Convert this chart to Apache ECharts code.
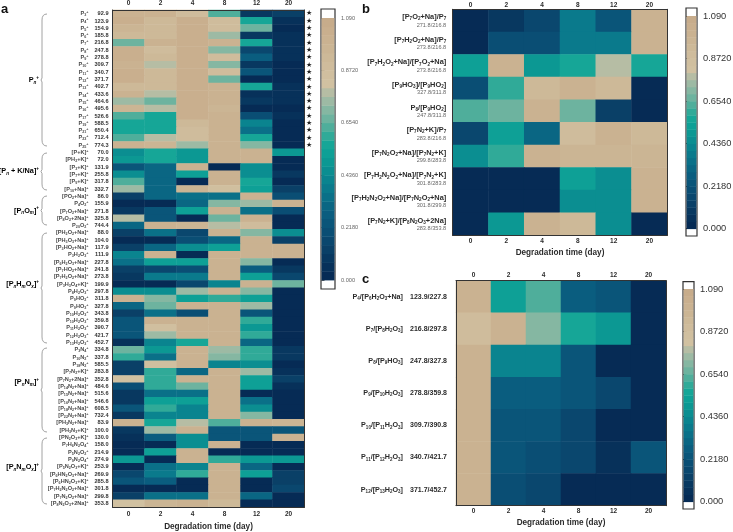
<!DOCTYPE html>
<html><head><meta charset="utf-8">
<style>html,body{margin:0;padding:0;background:#fff}#c{width:733px;height:532px}</style>
<script src="https://cdn.jsdelivr.net/npm/echarts@6/dist/echarts.min.js"></script>
</head><body><div id="c"></div>
<script>
const days = ['0','2','4','8','12','20'];
const tickValues = [0, 0.218, 0.436, 0.654, 0.872, 1.09];
const tickLabels = ['0.000','0.2180','0.4360','0.6540','0.8720','1.090'];
const allColors = ['#062b55','#07315a','#083860','#0a4067','#0a476e','#0a4e74','#0a5579','#0a5d7f','#0a6683','#0a7088','#0a7a8c','#0a848f','#0b8e91','#0c9893','#0ea096','#16a697','#30aa98','#4fae9b','#6db39f','#85b7a2','#9dbaa4','#b6bda4','#d1c1a1','#d0bf9f','#cfbc9c','#cdb998','#cbb594','#cab291','#c9af8e','#c7ac8b'];

const aNames = ['P₃⁺','P₄⁺','P₅⁺','P₆⁺','P₇⁺','P₈⁺','P₉⁺','P₁₀⁺','P₁₁⁺','P₁₂⁺','P₁₃⁺','P₁₄⁺','P₁₅⁺','P₁₆⁺','P₁₇⁺','P₁₉⁺','P₂₁⁺','P₂₃⁺','P₂₅⁺',
'[P+K]⁺','[PH₂+K]⁺','[P₃+K]⁺','[P₇+K]⁺','[P₉+K]⁺','[P₁₀+Na]⁺',
'[PO₂+Na]⁺','P₄O₂⁺','[P₇O₂+Na]⁺','[P₈O₂+2Na]⁺','P₂₀O₂⁺',
'[PH₂O₂+Na]⁺','[PH₃O₃+Na]⁺','[P₃HO₂+Na]⁺','P₃H₂O₃⁺','[P₆H₂O₃+Na]⁺','[P₇HO₂+Na]⁺','[P₇H₂O₂+Na]⁺','[P₃H₃O₄+K]⁺','P₈H₂O₃⁺','P₉HO₂⁺','P₉HO₃⁺','P₁₀H₂O₃⁺','P₁₀H₂O₃⁺','P₁₁H₂O₃⁺','P₁₂H₂O₃⁺','P₁₃H₂O₃⁺',
'P₃N₄⁺','P₁₀N₂⁺','P₁₈N₂⁺','[P₇N₂+K]⁺','[P₇N₂+2Na]⁺','[P₁₄N₂+Na]⁺','[P₁₅N₂+Na]⁺','[P₁₆N₂+Na]⁺','[P₁₈N₂+Na]⁺','[P₂₂N₂+Na]⁺','[PH₃N₂+Na]⁺','[PH₃N₃+K]⁺',
'[PN₂O₃+K]⁺','P₇H₆N₂O₄⁺','P₅N₂O₂⁺','P₉N₂O₄⁺','[P₅N₂O₃+K]⁺','[P₆HN₂O₃+Na]⁺','[P₆HN₂O₃+K]⁺','[P₇H₂N₂O₂+Na]⁺','[P₇N₂O₂+Na]⁺','[P₈N₂O₃+2Na]⁺'];
const aMass = ['92.9','123.9','154.9','185.8','216.8','247.8','278.8','309.7','340.7','371.7','402.7','433.6','464.6','495.6','526.6','588.5','650.4','712.4','774.3',
'70.0','72.0','131.9','255.8','317.8','332.7',
'86.0','155.9','271.8','325.8','744.4',
'88.0','104.0','117.9','111.9','227.8','241.8','273.8','199.9','297.8','311.8','327.8','343.8','359.8','390.7','421.7','452.7',
'334.8','337.8','585.5','283.8','352.8','484.6','515.6','546.6','608.5','732.4','83.9','100.0',
'130.0','158.0','214.9','274.9','253.9','269.9','285.8','301.8','299.8','353.8'];
const aStars = 19;
const aValues = [
[1.0,1.0,.88,.63,.10,.13],[1.05,.92,1.05,.90,.55,.05],[.95,.92,1.05,.90,.68,.01],[.92,.92,1.05,.76,.08,.05],[.68,1.0,1.05,1.0,.55,.05],
[1.05,.88,1.05,.70,.16,.05],[1.05,.92,1.05,.90,.27,.05],[1.0,.78,1.05,.70,.10,.01],[1.05,.92,1.05,.88,.22,.01],[1.05,.92,1.05,.68,.00,.01],
[.92,.92,1.05,1.0,.55,.05],[1.0,.78,1.05,1.0,.05,.05],[.74,.68,1.05,1.0,.10,.04],[.95,.78,1.05,.95,.02,.01],[.63,.58,1.05,1.0,.20,.05],
[.55,.58,.92,1.0,.40,.01],[.55,.58,.88,1.0,.35,.01],[.63,.78,.90,1.0,.58,.01],[1.0,.95,.76,1.0,.72,.01],
[.47,.58,.48,1.0,1.0,.48],[.50,.55,.50,1.0,1.0,.01],[.24,.30,1.0,.00,.44,.01],[.46,.32,.52,1.0,.46,.08],[.63,.32,.00,1.0,.55,.00],[.76,.32,.98,.85,.54,.14],
[.14,.30,.36,.33,1.0,.20],[.00,.00,.32,.70,.75,1.0],[.10,.24,.52,1.0,.36,.20],[.78,.24,.02,.66,1.0,.00],[.32,1.0,.98,.78,.88,.00],
[.12,.36,.16,1.0,.72,.46],[.00,.00,.20,.30,1.0,.12],[.14,.30,.45,.52,1.0,1.0],[.42,1.0,.00,1.0,1.0,1.0],[.34,.52,.52,1.0,.72,.01],[.14,.16,.20,1.0,.27,.10],[.08,.38,.38,1.0,.52,.18],[.00,.00,.18,.42,1.0,.68],
[.44,.46,.74,1.0,.72,.00],[1.0,.72,.54,.60,.52,.00],[.30,.66,1.0,1.0,.76,.00],[.12,.33,.20,1.0,.25,.00],[.22,1.0,1.0,1.0,.60,.00],[.22,.85,1.0,1.0,.48,.00],[.22,.76,1.0,1.0,.60,.00],[.05,.42,.55,1.0,.30,.00],
[.66,.48,1.0,.74,.60,.08],[.60,.36,1.0,.70,.60,.08],[.14,.85,1.0,.42,.46,.01],[.14,.60,.30,1.0,.75,.05],[.82,.60,1.0,1.0,.54,.12],[.20,.60,.66,1.0,.54,.05],[.08,.33,.33,1.0,.00,.00],[.10,.52,.52,1.0,.33,.00],[.24,.60,.42,1.0,.46,.00],[.10,.42,.42,1.0,.72,.00],[1.0,.55,.78,.62,1.0,.95],[.08,.76,1.0,.25,.25,.22],
[.05,.28,.44,.25,.22,1.0],[.00,.03,.44,1.0,.00,.00],[.00,.52,1.0,.00,.00,.00],[.50,.00,1.0,.60,.48,.50],[.02,.33,.40,1.0,.30,.00],[.16,.38,.60,1.0,.54,.13],[.22,.26,.03,1.0,.00,.12],[.00,.00,.00,1.0,.00,.18],[.12,.35,.35,1.0,.30,.03],[.82,.98,1.0,.92,.00,.03]];

const bNames = ['[P₇O₂+Na]/P₇','[P₇H₂O₂+Na]/P₇','[P₇H₂O₂+Na]/[P₇O₂+Na]','[P₉HO₃]/[P₉HO₂]','P₈/[P₉HO₂]','[P₇N₂+K]/P₇','[P₇N₂O₂+Na]/[P₇N₂+K]','[P₇H₂N₂O₂+Na]/[P₇N₂+K]','[P₇H₂N₂O₂+Na]/[P₇N₂O₂+Na]','[P₇N₂+K]/[P₈N₂O₃+2Na]'];
const bMass = ['271.8/216.8','273.8/216.8','273.8/216.8','327.8/311.8','247.8/311.8','283.8/216.8','299.8/283.8','301.8/283.8','301.8/299.8','283.8/353.8'];
const bValues = [[.03,.08,.17,.38,.22,1.0],[.02,.19,.19,.38,.38,1.0],[.52,1.0,.50,.56,.78,.56],[.20,.60,.92,1.0,.92,.00],[.62,.68,1.0,.66,.14,.01],[.18,.52,.30,.90,1.0,.92],[.44,.60,1.0,.98,.98,.95],[.00,.00,.00,.52,.45,1.0],[.00,.00,.00,.46,.44,1.0],[.00,.48,1.0,.92,.46,.00]];

const cNames = ['P₄/[P₆H₂O₃+Na]','P₇/[P₈H₂O₃]','P₈/[P₉HO₃]','P₉/[P₁₀H₂O₃]','P₁₀/[P₁₁H₂O₃]','P₁₁/[P₁₂H₂O₃]','P₁₂/[P₁₃H₂O₃]'];
const cMass = ['123.9/227.8','216.8/297.8','247.8/327.8','278.8/359.8','309.7/390.8','340.7/421.7','371.7/452.7'];
const cValues = [[1.0,.52,.64,.27,.23,.01],[.90,1.0,.72,.56,.48,.01],[1.0,.41,.41,.22,.01,.00],[1.0,.27,.27,.23,.16,.00],[1.0,.24,.24,.17,.03,.00],[1.0,.24,.20,.17,.04,.25],[1.0,.20,.17,.01,.03,.02]];

const MAX = 1.09, N = allColors.length, STEP = MAX / N;
const bandColor = v => allColors[Math.min(N - 1, Math.floor(v / STEP))];
const FONT = '"Liberation Sans", Arial, sans-serif';
const INK = '#2b2b2b';

// Turn a formula with unicode sub/superscripts into rich-text runs.
const SUBS = {'₀':'0','₁':'1','₂':'2','₃':'3','₄':'4','₅':'5','₆':'6','₇':'7','₈':'8','₉':'9','ₙ':'n','ₘ':'m','ₓ':'x'};
const formula = (s) => {
  let out = '', run = '', kind = 'r';
  const flush = () => { if (run) out += `{${kind}|${run}}`; run = ''; };
  for (const ch of s) {
    const k = SUBS[ch] ? 's' : ch === '⁺' ? 'u' : 'r';
    if (k !== kind) { flush(); kind = k; }
    run += SUBS[ch] || (ch === '⁺' ? '+' : ch);
  }
  flush();
  return out;
};
const richSet = (size, subSize, color, lh, align, italicSub) => {
  const base = {fontFamily:FONT, fontWeight:'bold', color, align};
  return {
    r:{...base, fontSize:size, lineHeight:lh},
    s:{...base, fontSize:subSize, lineHeight:subSize+0.5, verticalAlign:'bottom', fontStyle:italicSub?'italic':'normal'},
    u:{...base, fontSize:subSize, lineHeight:subSize+0.5, verticalAlign:'top'}
  };
};

const panels = [
  {grid:{left:112.5,top:10,width:192,height:497}, bar:{left:321,top:9,width:14,height:280,px:[18,280]}, rows:aNames, vals:aValues, barFont:5.6, barColor:'#666',
   labelGapTop:3.5, labelGapBottom:4, nameGap:16},
  {grid:{left:452.7,top:9.3,width:214.6,height:226}, bar:{left:686,top:8,width:11,height:228,px:[16,228.7]}, rows:bNames, vals:bValues, barFont:9.3, barColor:'#333',
   labelGapTop:1, labelGapBottom:2, nameGap:13.5},
  {grid:{left:456,top:280.7,width:210,height:225}, bar:{left:683,top:281.7,width:11,height:227.3,px:[289,501.7]}, rows:cNames, vals:cValues, barFont:9.3, barColor:'#333',
   labelGapTop:1.5, labelGapBottom:2.5, nameGap:13.5}
];

const grids=[], xAxes=[], yAxes=[], series=[];
const frame = {show:true, lineStyle:{color:'#333', width:1}};
panels.forEach((p, k) => {
  const g = grids.length;
  grids.push({...p.grid, outerBoundsMode:'none'});
  const xi = xAxes.length, yi = yAxes.length;
  const lab = (m) => ({show:true, margin:m, interval:0, color:INK, fontFamily:FONT, fontWeight:'bold', fontSize:6.5});
  xAxes.push({type:'category', gridIndex:g, data:days, position:'bottom', z:5, axisLine:frame, axisTick:{show:false}, axisLabel:lab(p.labelGapBottom),
    splitLine:{show:false}, name:'Degradation time (day)', nameLocation:'middle', nameGap:p.nameGap,
    nameTextStyle:{fontFamily:FONT, fontWeight:'bold', fontSize:8.2, color:INK}});
  xAxes.push({type:'category', gridIndex:g, data:days, position:'top', z:5, axisLine:frame, axisTick:{show:false}, axisLabel:lab(p.labelGapTop), splitLine:{show:false}});
  let leftLabel;
  if (k === 0) {
    leftLabel = {show:true, interval:0, margin:4, align:'right', fontFamily:FONT, fontSize:5.6,
      formatter:(v,i)=>`${formula(aNames[i])}{m|${aMass[i]}}`,
      rich:{...richSet(5.6,3.7,'#4a4a4a',7,'right'), m:{fontFamily:FONT,fontWeight:'bold',fontSize:5.6,color:'#333',width:20,align:'right',lineHeight:7}}};
  } else if (k === 1) {
    leftLabel = {show:true, interval:0, margin:6.5, align:'right', fontFamily:FONT, formatter:(v,i)=>`${formula(bNames[i])}\n{m|${bMass[i]}}`,
      rich:{...richSet(7.4,4.6,INK,9,'right'), m:{fontFamily:FONT,fontSize:5.6,color:'#666',align:'right',lineHeight:7}}};
  } else {
    leftLabel = {show:true, interval:0, margin:9, align:'right', fontFamily:FONT, formatter:(v,i)=>`${formula(cNames[i])}{m|${cMass[i]}}`,
      rich:{...richSet(7.2,4.5,INK,9,'right'), m:{fontFamily:FONT,fontWeight:'bold',fontSize:7,color:INK,width:44,align:'right',lineHeight:9}}};
  }
  yAxes.push({type:'category', gridIndex:g, data:p.rows, inverse:true, position:'left', z:5, axisLine:frame, axisTick:{show:false}, axisLabel:leftLabel, splitLine:{show:false}});
  yAxes.push({type:'category', gridIndex:g, data:p.rows.map((r,i)=> (k===0 && i<aStars) ? '★' : ''), inverse:true, position:'right', z:5, axisLine:frame, axisTick:{show:false},
    axisLabel:{show:k===0, interval:0, margin:1.5, fontSize:7, color:'#222', fontFamily:'"DejaVu Sans"'}, splitLine:{show:false}});
  const data = [];
  p.vals.forEach((row,r)=>row.forEach((v,c)=>data.push({value:[c,r,v], itemStyle:{color:bandColor(v)}})));
  series.push({type:'heatmap', xAxisIndex:xi, yAxisIndex:yi, data, progressive:0, emphasis:{disabled:true}, silent:true});

  const gb = grids.length;
  const pxPerUnit = (p.bar.px[1]-p.bar.px[0]) / MAX;
  const lo = -(p.bar.top + p.bar.height - p.bar.px[1]) / pxPerUnit;
  const hi = MAX + (p.bar.px[0]-p.bar.top) / pxPerUnit;
  grids.push({left:p.bar.left, top:p.bar.top, width:p.bar.width, height:p.bar.height, outerBoundsMode:'none', show:true, backgroundColor:'#fff', borderColor:'#333', borderWidth:1.2});
  const xb = xAxes.length, yb = yAxes.length;
  xAxes.push({type:'value', gridIndex:gb, min:0, max:1, show:false});
  yAxes.push({type:'value', gridIndex:gb, min:lo, max:hi, position:'right',
    axisLine:{show:false}, splitLine:{show:false},
    axisTick:{show:true, length:3.5, customValues:tickValues, lineStyle:{color:p.barColor, width:1}},
    axisLabel:{show:true, customValues:tickValues, margin:6, color:p.barColor, fontFamily:FONT, fontSize:p.barFont,
      formatter:(v)=>tickLabels[tickValues.findIndex(t=>Math.abs(t-v)<1e-6)]}});
  const bands = allColors.map((c,i)=>[i*STEP,(i+1)*STEP]);
  series.push({type:'custom', xAxisIndex:xb, yAxisIndex:yb, silent:true, clip:false, data:bands,
    encode:{y:[0,1]},
    renderItem:(params,api)=>{
      const a = api.coord([0,api.value(0)]), b = api.coord([1,api.value(1)]);
      return {type:'rect', shape:{x:a[0]+0.6, y:b[1], width:b[0]-a[0]-1.2, height:a[1]-b[1]+0.4}, style:{fill:allColors[params.dataIndex]}};
    }});
});

const braces = [
  {y0:14,y1:146,ly:80,text:'Pₙ⁺'},
  {y0:153,y1:190,ly:171,text:'[Pₙ + K/Na]⁺'},
  {y0:196,y1:225,ly:210.5,text:'[PₙOₘ]⁺'},
  {y0:233,y1:343,ly:284,text:'[PₙHₘOₓ]⁺'},
  {y0:348,y1:432,ly:382,text:'[PₙNₘ]⁺'},
  {y0:438,y1:504,ly:467,text:'[PₙNₘOₓ]⁺'}
];
const panelLetters = [{t:'a',x:1,y:9},{t:'b',x:362,y:9},{t:'c',x:362,y:279}];
const graphic = [];
const braceStyle = {fill:null, stroke:'#8a8a8a', lineWidth:0.8};
braces.forEach(b=>{
  const m=(b.y0+b.y1)/2;
  graphic.push({type:'bezierCurve', silent:true, shape:{x1:47,y1:b.y0,cpx1:42,cpy1:b.y0,x2:42,y2:b.y0+6}, style:braceStyle});
  graphic.push({type:'polyline', silent:true, shape:{points:[[42,b.y0+6],[42,m-2],[41,m],[42,m+2],[42,b.y1-6]]}, style:braceStyle});
  graphic.push({type:'bezierCurve', silent:true, shape:{x1:42,y1:b.y1-6,cpx1:42,cpy1:b.y1,x2:47,y2:b.y1}, style:braceStyle});
  graphic.push({type:'text', x:39, y:b.ly, silent:true, style:{text:formula(b.text), align:'right', verticalAlign:'middle', rich:richSet(7.3,4.6,'#333',10,'right',true)}});
});
panelLetters.forEach(l=>graphic.push({type:'text', x:l.x, y:l.y, silent:true, style:{text:l.t, align:'left', verticalAlign:'middle', font:`bold 13px ${FONT}`, fill:'#111'}}));

const chart = echarts.init(document.getElementById('c'), null, {renderer:'canvas', width:733, height:532});
chart.setOption({animation:false, backgroundColor:'#fff', grid:grids, xAxis:xAxes, yAxis:yAxes, series, graphic});
</script></body></html>
